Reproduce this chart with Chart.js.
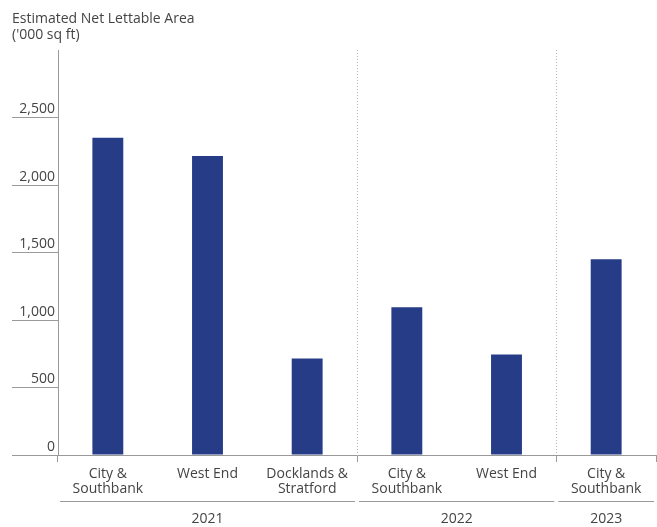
<!DOCTYPE html>
<html>
<head>
<meta charset="utf-8">
<script src="https://cdn.jsdelivr.net/npm/chart.js@4/dist/chart.umd.min.js"></script>
<style>
  html, body { margin: 0; padding: 0; background: #fff; }
  #wrap { width: 657px; height: 527px; }
</style>
</head>
<body>
<div id="wrap"><canvas id="chart" width="657" height="527"></canvas></div>
<script>
// Data
const categories = [
    ['City &', 'Southbank'], 'West End', ['Docklands &', 'Stratford'],
    ['City &', 'Southbank'], 'West End',
    ['City &', 'Southbank']
];
const values = [2350, 2215, 715, 1095, 745, 1450];
const groups = ['2021', '2022', '2023'];
const groupSizes = [3, 2, 1];
const titleLines = ['Estimated Net Lettable Area', "('000 sq ft)"];

const TEXT = '#444';
const LINE = '#9a9a9a';
const BAR = '#263c87';
const FONT_FAMILY = '"Open Sans", sans-serif';

// title + year groups underneath the categories
const annotate = {
    id: 'annotate',
    afterDraw(chart) {
        const { ctx, scales: { x } } = chart;
        ctx.save();
        ctx.fillStyle = TEXT;
        ctx.font = '14px ' + FONT_FAMILY;
        ctx.textBaseline = 'middle';
        ctx.textAlign = 'left';
        titleLines.forEach((t, i) => ctx.fillText(t, 12, 19 + i * 16));

        const half = (x.getPixelForValue(1) - x.getPixelForValue(0)) / 2;
        let start = 0;
        ctx.strokeStyle = LINE;
        ctx.lineWidth = 1;
        ctx.textAlign = 'center';
        groups.forEach((g, gi) => {
            const end = start + groupSizes[gi] - 1;
            const x1 = x.getPixelForValue(start) - half;
            const x2 = x.getPixelForValue(end) + half;
            ctx.beginPath();
            ctx.moveTo(x1 + 2, 501.5);
            ctx.lineTo(x2 - 2, 501.5);
            ctx.stroke();
            ctx.fillText(g, (x1 + x2) / 2, 519);
            start = end + 1;
        });
        ctx.restore();
    }
};

const boundaries = [0, 3, 5];

new Chart(document.getElementById('chart'), {
    type: 'bar',
    data: {
        labels: categories,
        datasets: [{
            data: values,
            backgroundColor: BAR,
            barPercentage: 0.31,
            categoryPercentage: 1
        }]
    },
    options: {
        responsive: false,
        animation: false,
        layout: { padding: { left: 12, top: 50, right: 1, bottom: 0 } },
        plugins: { legend: { display: false }, tooltip: { enabled: false } },
        scales: {
            x: {
                grid: {
                    offset: true,
                    tickLength: 7,
                    color: c => (c.index === 3 || c.index === 5) ? '#b5b5b5' : 'transparent',
                    tickColor: c => (c.index === undefined || boundaries.includes(c.index)) ? LINE : 'transparent'
                },
                border: { color: LINE, dash: [1, 2] },
                ticks: {
                    color: TEXT,
                    font: { family: FONT_FAMILY, size: 14, lineHeight: 1.07 },
                    padding: 5,
                    maxRotation: 0,
                    autoSkip: false
                },
                afterFit: s => { s.height = 72; }
            },
            y: {
                min: 0,
                max: 3000,
                grid: {
                    drawOnChartArea: false,
                    tickLength: 46,
                    color: c => (c.tick && c.tick.value === 3000) ? 'transparent' : LINE
                },
                border: { color: LINE },
                ticks: {
                    stepSize: 500,
                    padding: -43,
                    labelOffset: -8,
                    color: TEXT,
                    font: { family: FONT_FAMILY, size: 14 },
                    callback: v => v === 3000 ? '' : v.toLocaleString('en-US')
                },
                afterFit: s => { s.width = 46; }
            }
        }
    },
    plugins: [annotate]
});
</script>
</body>
</html>
